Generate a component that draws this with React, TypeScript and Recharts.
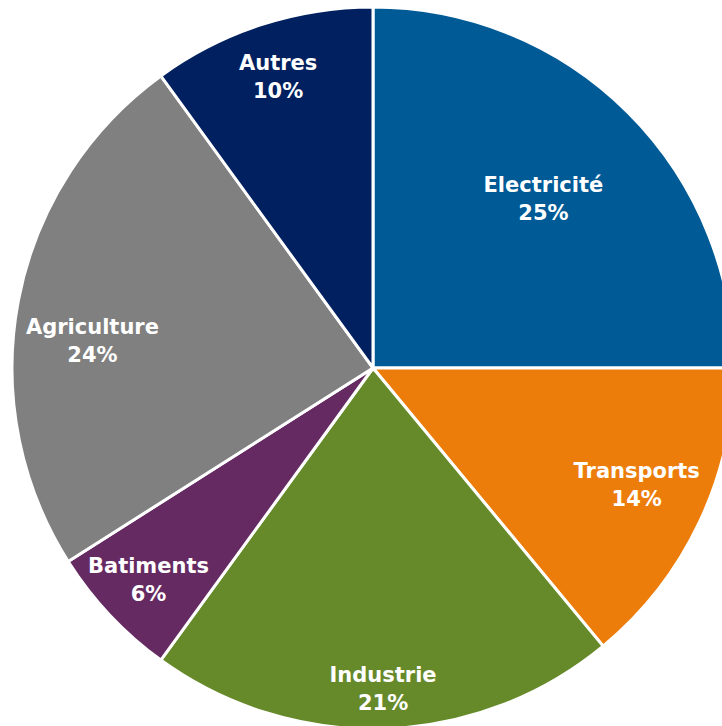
import { PieChart, Pie, Cell } from 'recharts';

const sectors = ['Electricité', 'Transports', 'Industrie', 'Batiments', 'Agriculture', 'Autres'];
const shares = [25, 14, 21, 6, 24, 10];

const colors = ['#005a96', '#ed7d0a', '#668a2a', '#662a62', '#808080', '#002060'];
// label distance from centre (px) and small angle nudge (deg), per slice
const labelRadius = [241, 288, 320, 308, 282, 307];
const labelNudge = [0, 1.5, 0, 0, 5, 0];

const RADIAN = Math.PI / 180;

const renderLabel = (props: any) => {
  const { cx, cy, midAngle, index } = props;
  const a = (midAngle + labelNudge[index]) * RADIAN;
  const r = labelRadius[index];
  const x = cx + r * Math.cos(a);
  const y = cy - r * Math.sin(a);
  return (
    <text
      x={x}
      y={y}
      fill='#ffffff'
      textAnchor='middle'
      fontFamily='DejaVu Sans, Verdana, sans-serif'
      fontWeight='bold'
      fontSize={21}
    >
      <tspan x={x} dy={-6}>{sectors[index]}</tspan>
      <tspan x={x} dy={28}>{shares[index]}%</tspan>
    </text>
  );
};

const App = () => {
  const chartData = sectors.map((name, i) => ({ name, value: shares[i] }));

  return (
    <div style={{ position: 'fixed', top: 0, left: 0, width: 722, height: 726, overflow: 'hidden', background: '#fff' }}>
      <PieChart width={722} height={726} margin={{ top: 0, right: 0, bottom: 0, left: 0 }}>
        <Pie
          data={chartData}
          dataKey='value'
          cx={373}
          cy={368}
          outerRadius={361}
          startAngle={90}
          endAngle={-270}
          stroke='#ffffff'
          strokeWidth={3}
          label={renderLabel}
          labelLine={false}
          isAnimationActive={false}
        >
          {chartData.map((d, i) => (
            <Cell key={d.name} fill={colors[i]} />
          ))}
        </Pie>
      </PieChart>
    </div>
  );
};

export default App;
